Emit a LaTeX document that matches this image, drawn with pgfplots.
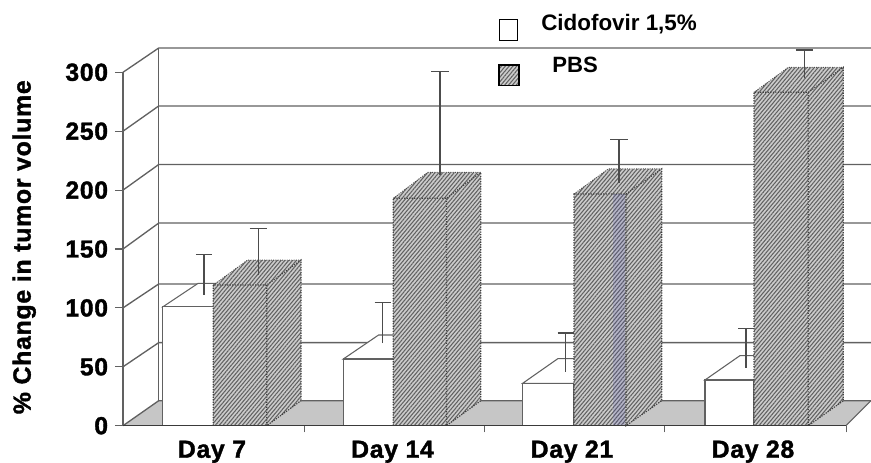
\documentclass[border=0pt]{standalone}
\usepackage{fontspec}
\setmainfont{Liberation Sans}
\usepackage{pgfplots}
\pgfplotsset{compat=1.18}
\usetikzlibrary{patterns.meta}
\newfontfamily\lab[LetterSpace=3,FakeBold=1.5]{Liberation Sans Bold}
\newfontfamily\leg{Liberation Sans Bold}
\definecolor{gridc}{gray}{0.38}
\definecolor{hatchbg}{gray}{0.80}
\definecolor{hatchfg}{gray}{0.38}
\tikzset{hatched/.style={preaction={fill=hatchbg},pattern={Lines[angle=50,distance=2.2pt,line width=0.8pt]},pattern color=hatchfg,draw=none}}
\newcommand\pbsbar[6]{%
  % x0 x1 backleft backright top topback
  \addplot[hatched] coordinates {(#1,0)(#1,#5)(#2,#5)(#2,0)} -- cycle;
  \addplot[hatched] coordinates {(#2,0)(#2,#5)(#4,#6)(#4,21.2)} -- cycle;
  \addplot[hatched] coordinates {(#1,#5)(#3,#6)(#4,#6)(#2,#5)} -- cycle;
  \addplot[black!75,densely dotted,line width=0.9pt] coordinates {(#1,0)(#1,#5)(#2,#5)(#4,#6)(#4,21.2)};
  \addplot[black!75,densely dotted,line width=0.9pt] coordinates {(#2,#5)(#2,0)(#4,21.2)};
  \addplot[black!70,densely dotted,line width=0.7pt] coordinates {(#1,#5)(#3,#6)(#4,#6)};
}
\newcommand\whbar[6]{%
  \addplot[fill=white,draw=gridc,line width=0.8pt] coordinates {(#1,#5)(#3,#6)(#4,#6)(#2,#5)} -- cycle;
  \addplot[fill=white,draw=gridc,line width=0.8pt] coordinates {(#1,0)(#1,#5)(#2,#5)(#2,0)} -- cycle;
}
\begin{document}
\begin{tikzpicture}
\begin{axis}[
  scale only axis, width=561pt, height=265.05pt,
  xmin=123, xmax=871, ymin=0, ymax=300,
  clip=false,
  axis y line*=left, axis x line*=bottom,
  x axis line style={draw=none,-}, y axis line style={draw=gridc,line width=0.8pt,-},
  xtick={212,392.5,572,753},
  xticklabels={Day 7,Day 14,Day 21,Day 28},
  minor xtick={304,484,664,846},
  minor tick length=5pt,
  minor x tick style={draw=gridc,line width=0.7pt},
  xtick style={draw=none},
  ytick={0,50,100,150,200,250,300},
  tick align=outside,
  major tick length=6pt,
  ytick style={draw=gridc,line width=0.8pt},
  /pgf/number format/assume math mode=true,
  ticklabel style={font=\lab\fontsize{18.5}{19}\selectfont},
  xticklabel style={anchor=base,yshift=-18pt},
  yticklabel style={anchor=east,inner sep=0pt,xshift=-5pt},
  ylabel={\% Change in tumor volume},
  ylabel style={at={(axis description cs:-0.1320,0.505)},anchor=center,font=\lab\fontsize{18.6}{19}\selectfont},
]
% back wall and floor
\addplot[fill=gray!45,draw=none] coordinates {(123,0)(158.7,21.2)(871,21.2)(846,0)} -- cycle;
\addplot[gridc,line width=0.9pt] coordinates {(158.7,21.2)(158.7,320.6)};
\addplot[gridc,line width=1pt] coordinates {(123,300)(158.7,320.6)(871,320.6)};
\addplot[gridc,line width=1pt] coordinates {(123,250)(158.7,271.4)(871,271.4)};
\addplot[gridc,line width=1pt] coordinates {(123,200)(158.7,221.7)(871,221.7)};
\addplot[gridc,line width=1pt] coordinates {(123,150)(158.7,172)(871,172)};
\addplot[gridc,line width=1pt] coordinates {(123,100)(158.7,120.3)(871,120.3)};
\addplot[gridc,line width=1pt] coordinates {(123,50)(158.7,70.5)(871,70.5)};
\addplot[gridc,line width=1pt] coordinates {(123,0)(158.7,21.2)(871,21.2)};
\addplot[gridc,line width=0.8pt] coordinates {(846,0)(871,21.2)};
% Cidofovir bars
\whbar{162.7}{213.3}{198}{250}{100.8}{120.8}
\whbar{343.3}{393.3}{378.6}{430}{56.6}{77}
\whbar{522.7}{574}{558}{610}{36}{57}
\whbar{705}{754}{740}{790}{38.8}{59.5}
% Cidofovir error bars
\addplot[draw=none,mark=none,forget plot,error bars/.cd,y dir=plus,y explicit,
  error mark options={rotate=90,mark size=6pt,line width=1pt,draw=black!70},
  error bar style={line width=1.1pt,draw=black!70}]
  coordinates {(204,111) +- (0,34.5) (382.7,70.2) +- (0,34.2) (565.7,45.8) +- (0,32.9) (746,49) +- (0,33.7)};
% PBS bars
\pbsbar{213.3}{266.7}{247.6}{301}{119.4}{140.6}
\pbsbar{393.3}{446.4}{427.6}{480.7}{193}{215}
\pbsbar{574}{626}{608.3}{661.7}{196.7}{218}
\pbsbar{754}{808.3}{788.3}{843.3}{283}{304.2}
% bluish stripe on Day 21
\addplot[fill=blue!40!gray,fill opacity=0.18,draw=none] coordinates {(613,0)(613,196.7)(625,196.7)(625,0)} -- cycle;
% PBS error bars
\addplot[draw=none,mark=none,forget plot,error bars/.cd,y dir=plus,y explicit,
  error mark options={rotate=90,mark size=6.5pt,line width=1pt,draw=black!70},
  error bar style={line width=1.1pt,draw=black!70}]
  coordinates {(258.3,128) +- (0,39.6) (440,212.8) +- (0,87.7) (619,206) +- (0,37.1) (804.3,295.2) +- (0,23.7)};
% front axis line
\addplot[gridc!60!black,line width=1pt] coordinates {(123,0)(846,0)};
% legend
\addplot[fill=white,draw=black,line width=0.8pt] coordinates {(499.3,327.3)(499.3,344.9)(517.7,344.9)(517.7,327.3)} -- cycle;
\addplot[hatched] coordinates {(499,288.4)(499,306.2)(519,306.2)(519,288.4)} -- cycle;
\addplot[draw=black,line width=0.8pt] coordinates {(499,288.4)(499,306.2)(519,306.2)(519,288.4)} -- cycle;
\node[anchor=west,inner sep=0pt,font=\leg\fontsize{16.8}{18}\selectfont] at (axis cs:541,341) {Cidofovir 1,5\%};
\node[anchor=west,inner sep=0pt,font=\leg\fontsize{16.6}{18}\selectfont] at (axis cs:552,306.2) {PBS};
\end{axis}
\pgfresetboundingbox
\path[use as bounding box] (-92.25pt,-27.975pt) rectangle (561pt,319.275pt);
\end{tikzpicture}
\end{document}
